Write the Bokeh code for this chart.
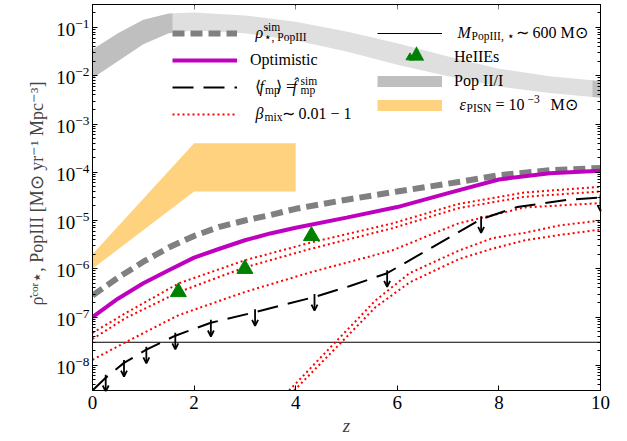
from bokeh.plotting import figure
from bokeh.models import (ColumnDataSource, Legend, LegendItem, LogAxis, LinearAxis,
                          LogTicker, SingleIntervalTicker, Arrow, OpenHead, Range1d,
                          CustomJSTickFormatter, Label, BoxAnnotation, PolyAnnotation)
from bokeh.embed import file_html
from bokeh.resources import INLINE

# ---------------- data ----------------
# Pop II/I SFRD band
popii_z = [0, 0.5, 1, 1.5, 2, 3, 4, 5, 6, 7, 8, 9, 10]
popii_lo = [8.9e-3, 2.0e-2, 4.5e-2, 7.6e-2, 8.7e-2, 7.6e-2, 5.4e-2, 3.2e-2, 1.7e-2, 9.8e-3, 6.0e-3, 4.4e-3, 3.5e-3]
popii_hi = [3.5e-2, 7.6e-2, 0.145, 0.195, 0.204, 0.178, 0.132, 8.3e-2, 4.7e-2, 2.5e-2, 1.4e-2, 9.8e-3, 7.8e-3]

# epsilon_PISN = 1e-3 Msun band
pisn_z = [0, 2, 4]
pisn_lo = [1.0e-6, 4.0e-5, 4.0e-5]
pisn_hi = [2.0e-6, 4.0e-4, 4.0e-4]

# simulated Pop III SFRD and optimistic case
sim_z = [0, 0.5, 1, 1.5, 2, 2.5, 3, 3.5, 4, 5, 6, 7, 8, 9, 10]
sim_sfrd = [2.8e-7, 6.5e-7, 1.4e-6, 2.75e-6, 4.8e-6, 7.4e-6, 1.0e-5, 1.3e-5, 1.75e-5,
            2.7e-5, 4.0e-5, 5.8e-5, 8.7e-5, 1.1e-4, 1.23e-4]
opt_sfrd = [1.0e-7, 2.4e-7, 5.0e-7, 9.3e-7, 1.7e-6, 2.6e-6, 3.9e-6, 5.4e-6, 7.1e-6,
            1.15e-5, 1.9e-5, 3.7e-5, 7.1e-5, 9.5e-5, 1.07e-4]

# beta_mix ~ 0.01 - 1 curves
beta_z = [0, 0.65, 1.7, 3.0, 4.3, 5.9, 7.2, 8.5, 10]
beta_a = [4.7e-8, 1.2e-7, 5.0e-7, 1.5e-6, 3.5e-6, 8.7e-6, 2.2e-5, 3.8e-5, 5.0e-5]
beta_b = [3.5e-8, 9.5e-8, 3.3e-7, 1.07e-6, 2.6e-6, 6.9e-6, 1.8e-5, 3.1e-5, 4.0e-5]
beta_c = [1.3e-8, 3.0e-8, 1.1e-7, 3.3e-7, 8.5e-7, 2.4e-6, 8.7e-6, 1.86e-5, 2.3e-5]
beta_d_z = [3.87, 4.78, 5.57, 6.24, 7.22, 7.87, 8.52, 9.19, 10]
beta_d = [3.0e-9, 3.0e-8, 2.2e-7, 8.1e-7, 2.4e-6, 4.3e-6, 5.6e-6, 7.9e-6, 1.0e-5]
beta_e_z = [3.97, 4.9, 5.57, 6.24, 7.22, 7.87, 8.52, 9.19, 10]
beta_e = [3.0e-9, 3.0e-8, 1.6e-7, 5.2e-7, 1.6e-6, 2.6e-6, 3.9e-6, 5.0e-6, 6.5e-6]

# <f_mp> = f_mp^sim curve and its upper limits
fmp_z = [0, 0.26, 0.62, 1.06, 1.63, 2.33, 3.2, 4.37, 5.07, 5.8, 7.65, 8.36, 9.35, 10]
fmp_sfrd = [3.0e-9, 5.5e-9, 1.12e-8, 2.1e-8, 4.1e-8, 7.6e-8, 1.26e-7, 2.6e-7, 4.4e-7,
            8.1e-7, 1.07e-5, 1.9e-5, 2.7e-5, 3.0e-5]
ul_z = [0.26, 0.62, 1.06, 1.63, 2.33, 3.2, 4.37, 5.8, 7.65, 10]
ul_sfrd = [5.5e-9, 1.12e-8, 2.1e-8, 4.1e-8, 7.6e-8, 1.26e-7, 2.6e-7, 8.1e-7, 1.07e-5, 3.0e-5]
ul_top_factor = 1.15
ul_factor = 0.52

# HeII emitters
heii_z = [1.69, 3.0, 4.31]
heii_sfrd = [3.3e-7, 1.0e-6, 4.8e-6]

# M_PopIII,* ~ 600 Msun level
mpop_z = [0, 10]
mpop_level = 3.0e-8

x_ticks_interval = 2

# ---------------- figure ----------------
FONT = "Liberation Serif"
FRAME_LEFT, FRAME_BOTTOM = 92, 390   # page pixels of the frame corner
p = figure(width=620, height=440, x_range=Range1d(0, 10), y_range=Range1d(3e-9, 0.3),
           y_axis_type="log", output_backend="svg", toolbar_location=None,
           min_border_left=92, min_border_right=20, min_border_top=4, min_border_bottom=50)
p.xgrid.visible = False
p.ygrid.visible = False
p.outline_line_color = "black"
p.outline_line_width = 1
p.background_fill_color = "white"
p.border_fill_color = "white"

# bands
r_popii = p.varea(x=popii_z, y1=popii_lo, y2=popii_hi, fill_color="gray", fill_alpha=0.5)
r_pisn = p.varea(x=pisn_z, y1=pisn_lo, y2=pisn_hi, fill_color="orange", fill_alpha=0.5)

# horizontal mass level
r_mpop = p.line(x=mpop_z, y=[mpop_level, mpop_level], line_color="black", line_width=1)

# beta_mix curves
beta_kw = dict(line_color="red", line_width=2, line_dash="2 3")
r_beta = p.line(x=beta_z, y=beta_a, **beta_kw)
p.line(x=beta_z, y=beta_b, **beta_kw)
p.line(x=beta_z, y=beta_c, **beta_kw)
p.line(x=beta_d_z, y=beta_d, **beta_kw)
p.line(x=beta_e_z, y=beta_e, **beta_kw)

# f_mp curve and upper limits
r_fmp = p.line(x=fmp_z, y=fmp_sfrd, line_color="black", line_width=2, line_dash="21 10")
ul_src = ColumnDataSource(dict(x=ul_z,
                               y0=[v * ul_top_factor for v in ul_sfrd],
                               y1=[v * ul_factor for v in ul_sfrd]))
p.add_layout(Arrow(end=OpenHead(size=6, line_width=1.8, line_color="black"),
                   x_start="x", y_start="y0", x_end="x", y_end="y1",
                   line_width=1.8, line_color="black", source=ul_src))

# sim and optimistic
r_sim = p.line(x=sim_z, y=sim_sfrd, line_color="gray", line_width=6, line_dash="12 6")
r_opt = p.line(x=sim_z, y=opt_sfrd, line_color="#BF00BF", line_width=4)

# HeIIEs
r_heii = p.scatter(x=heii_z, y=heii_sfrd, marker="triangle", size=16,
                   fill_color="green", line_color="green")

# proxies for band legend swatches
r_popii_leg = p.line(x=[0], y=[1e-12], line_color="gray", line_alpha=0.5, line_width=11)
r_pisn_leg = p.line(x=[0], y=[1e-12], line_color="orange", line_alpha=0.5, line_width=11)

# ---------------- axes ----------------
blank = CustomJSTickFormatter(code="return ''")

def style_axis(ax, labels=True):
    ax.axis_line_color = "black"
    ax.major_tick_in = 5
    ax.major_tick_out = 0
    ax.minor_tick_in = 3
    ax.minor_tick_out = 0
    ax.major_tick_line_color = "black"
    ax.minor_tick_line_color = "black"
    if labels:
        ax.major_label_text_font = FONT
        ax.major_label_text_font_size = "19px"
        ax.major_label_text_color = "black"
        ax.major_label_standoff = 3
    else:
        ax.formatter = blank
        ax.major_label_text_font_size = "1px"
        ax.major_label_standoff = 0

xa = p.xaxis[0]
xa.ticker = SingleIntervalTicker(interval=x_ticks_interval, num_minor_ticks=0)
style_axis(xa)
xa.major_label_standoff = 5
xa.axis_label = "z"
xa.axis_label_text_font = FONT
xa.axis_label_text_font_style = "italic"
xa.axis_label_text_font_size = "19px"
xa.axis_label_standoff = 3

ya = p.yaxis[0]
ya.ticker = LogTicker(num_minor_ticks=10)
style_axis(ya)
ya.axis_label = "ρ̇ᶜᵒʳ⋆, PopIII [M⊙ yr⁻¹ Mpc⁻³]"
ya.axis_label_text_font = FONT
ya.axis_label_text_font_style = "normal"
ya.axis_label_text_font_size = "18px"
ya.axis_label_standoff = 6

top = LinearAxis(ticker=SingleIntervalTicker(interval=x_ticks_interval, num_minor_ticks=0))
style_axis(top, labels=False)
p.add_layout(top, "above")
right = LogAxis(ticker=LogTicker(num_minor_ticks=10))
style_axis(right, labels=False)
p.add_layout(right, "right")

# ---------------- legend background (semi-transparent white box) ----------------
p.add_layout(BoxAnnotation(left=172 - FRAME_LEFT, right=592 - FRAME_LEFT,
                           top=FRAME_BOTTOM - 5, bottom=FRAME_BOTTOM - 118,
                           left_units="screen", right_units="screen",
                           top_units="screen", bottom_units="screen",
                           fill_color="white", fill_alpha=0.5, line_color=None))

# legend sample for HeIIEs drawn at full marker size
tri_cx, tri_top, tri_base, tri_half = 416, 46, 60, 7.5
p.add_layout(PolyAnnotation(
    xs=[tri_cx - tri_half - FRAME_LEFT, tri_cx + tri_half - FRAME_LEFT, tri_cx - FRAME_LEFT],
    ys=[FRAME_BOTTOM - tri_base, FRAME_BOTTOM - tri_base, FRAME_BOTTOM - tri_top],
    xs_units="screen", ys_units="screen",
    fill_color="green", fill_alpha=1.0, line_color="green", line_width=1))

# ---------------- rich texts (sub/superscripts) ----------------
def txt(x, y, s, size=16, style="normal"):
    """x, y: page pixels of the text's baseline start."""
    p.add_layout(Label(x=x - FRAME_LEFT, y=FRAME_BOTTOM - y, x_units="screen", y_units="screen",
                       text=s, text_font=FONT, text_font_size=f"{size}px",
                       text_font_style=style, text_color="black",
                       text_baseline="alphabetic", text_align="left"))

SUB = 11.5
# left legend
txt(255, 32, "ρ̇", 16, "italic")
txt(263, 26, "sim", SUB)
txt(263, 36, "⋆, PopIII", SUB)
txt(254, 86, "⟨", 16)
txt(259, 86, "f", 16, "italic")
txt(264.5, 89.5, "mp", SUB)
txt(275.5, 86, "⟩ =", 16)
txt(292, 86, "f̂", 16, "italic")
txt(300, 80, "sim", SUB)
txt(300, 89.5, "mp", SUB)
txt(255, 113, "β", 16, "italic")
txt(264, 116.5, "mix", SUB)
txt(281, 113, "∼ 0.01 − 1", 16)
# right legend
txt(457, 32, "M", 16, "italic")
txt(471, 35.5, "PopIII, ⋆", SUB)
txt(515, 32, "∼ 600 M⊙", 16)
txt(459, 104, "ε", 16, "italic")
txt(466, 107.5, "PISN", SUB)
txt(495, 104, "= 10", 16)
txt(527, 98, "−3", SUB)
txt(550, 104, "M⊙", 16)

# ---------------- legends (glyph samples, transparent background) ----------------
leg_kw = dict(label_text_font=FONT, label_text_font_size="16px", label_text_color="black",
              label_height=20, glyph_height=20, glyph_width=65, padding=6, margin=0,
              background_fill_alpha=0, border_line_color=None)
leg_left = Legend(items=[
    LegendItem(label="", renderers=[r_sim]),
    LegendItem(label="Optimistic", renderers=[r_opt]),
    LegendItem(label="", renderers=[r_fmp]),
    LegendItem(label="", renderers=[r_beta]),
], location=(80, 266), spacing=7, label_standoff=13, **leg_kw)
leg_right = Legend(items=[
    LegendItem(label="", renderers=[r_mpop]),
    LegendItem(label="HeIIEs", renderers=[r_heii]),
    LegendItem(label="Pop II/I", renderers=[r_popii_leg]),
    LegendItem(label="", renderers=[r_pisn_leg]),
], location=(285, 275), spacing=4, label_standoff=12, **leg_kw)
p.add_layout(leg_left)
p.add_layout(leg_right)

open("out.html", "w").write(file_html(p, INLINE))
